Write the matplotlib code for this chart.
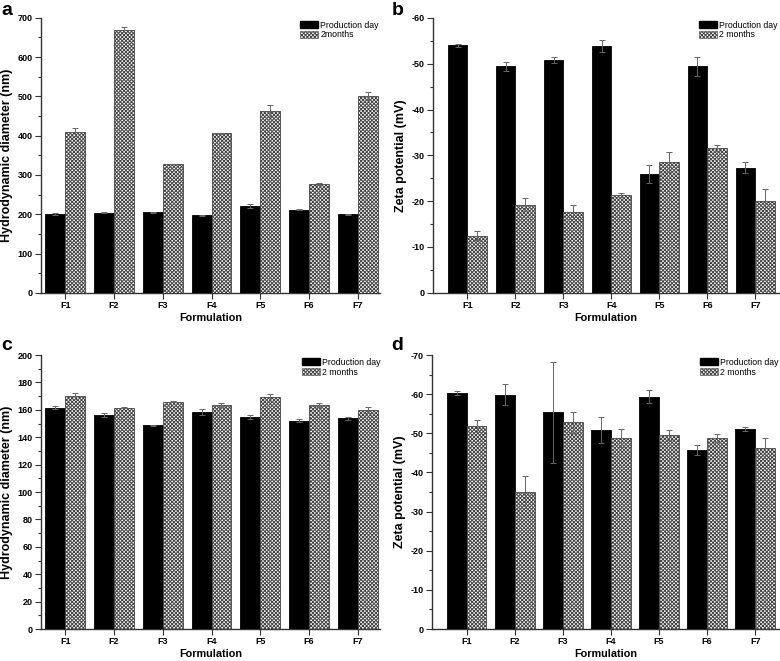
import matplotlib
matplotlib.use("Agg")
import matplotlib.pyplot as plt
import numpy as np
from matplotlib.patches import Patch
from matplotlib.ticker import MultipleLocator

plt.rcParams.update({
    "font.family": ["Liberation Sans", "DejaVu Sans"],
    "font.size": 7,
    "axes.unicode_minus": False,
    "hatch.linewidth": 0.7,
})

formulations = ["F1", "F2", "F3", "F4", "F5", "F6", "F7"]

# a: hydrodynamic diameter, first formulation set
size_a_day = [200, 204, 205, 197, 220, 212, 200]
size_a_day_err = [2, 2, 2, 1, 5, 1, 1]
size_a_2m = [410, 670, 328, 406, 462, 277, 500]
size_a_2m_err = [10, 6, 1, 2, 15, 2, 10]

# b: zeta potential, first set
zeta_b_day = [-54.0, -49.4, -50.8, -53.8, -26.0, -49.4, -27.3]
zeta_b_day_err = [0.3, 1.0, 0.6, 1.3, 2.0, 2.0, 1.2]
zeta_b_2m = [-12.5, -19.2, -17.7, -21.3, -28.6, -31.6, -20.0]
zeta_b_2m_err = [0.9, 1.4, 1.5, 0.4, 2.2, 0.7, 2.6]

# c: hydrodynamic diameter, second set
size_c_day = [161.6, 156.5, 148.7, 158.4, 154.6, 152.1, 153.8]
size_c_day_err = [1.0, 1.5, 0.5, 2.5, 1.5, 1.2, 1.3]
size_c_2m = [170.1, 161.6, 166.0, 163.3, 169.1, 163.8, 159.9]
size_c_2m_err = [2.5, 0.3, 0.2, 1.5, 2.5, 1.5, 2.5]

# d: zeta potential, second set
zeta_d_day = [-60.3, -59.9, -55.4, -50.9, -59.4, -45.7, -51.2]
zeta_d_day_err = [0.4, 2.6, 12.9, 3.3, 1.6, 1.2, 0.5]
zeta_d_2m = [-51.8, -34.9, -52.8, -48.7, -49.6, -48.9, -46.2]
zeta_d_2m_err = [1.5, 4.1, 2.7, 2.3, 1.2, 1.0, 2.6]

BAR_W = 0.41
HATCH = "xxxxxxxxx"
ERR_KW = dict(ecolor="#666666", elinewidth=0.7, capsize=2.2, capthick=0.7)


def draw_panel(ax, day, day_err, m2, m2_err, ylim, major, ylabel, legend_2m,
               xlim, leg_x):
    x = np.arange(1, len(formulations) + 1)
    ax.bar(x - BAR_W / 2, day, BAR_W, color="black", edgecolor="black",
           linewidth=0.6, yerr=day_err, error_kw=ERR_KW, zorder=3)
    ax.bar(x + BAR_W / 2, m2, BAR_W, color="white", edgecolor="#444444",
           hatch=HATCH, linewidth=0.6, yerr=m2_err, error_kw=ERR_KW, zorder=3)

    ax.set_xlim(*xlim)
    ax.set_ylim(*ylim)
    ax.set_xticks(x)
    ax.set_xticklabels(formulations, fontweight="bold")
    ax.yaxis.set_major_locator(MultipleLocator(major))
    ax.yaxis.set_minor_locator(MultipleLocator(major / 2))
    for lab in ax.get_yticklabels():
        lab.set_fontweight("bold")
    ax.tick_params(axis="both", which="both", direction="out", labelsize=6.5,
                   width=0.8, color="#333333", pad=2)
    ax.tick_params(axis="both", which="major", length=4)
    ax.tick_params(axis="y", which="minor", length=2)
    for side in ["top", "right"]:
        ax.spines[side].set_visible(False)
    for side in ["left", "bottom"]:
        ax.spines[side].set_linewidth(1.0)
        ax.spines[side].set_color("#333333")

    ax.set_xlabel("Formulation", fontsize=7.8, fontweight="bold", labelpad=2)
    ax.set_ylabel(ylabel, fontsize=9, fontweight="bold", labelpad=3)

    handles = [
        Patch(facecolor="black", edgecolor="black", label="Production day"),
        Patch(facecolor="white", edgecolor="#444444", hatch=HATCH,
              linewidth=0.4, label=legend_2m),
    ]
    ax.legend(handles=handles, loc="upper left", bbox_to_anchor=(leg_x, 0.99),
              frameon=False, fontsize=6.3, handlelength=2.1, handleheight=0.9,
              handletextpad=0.2, labelspacing=0.1, borderaxespad=0.0,
              borderpad=0.0)


fig = plt.figure(figsize=(7.8, 6.61), dpi=100)
ax_a = fig.add_axes([0.0526, 0.557, 0.434, 0.416])
ax_b = fig.add_axes([0.555, 0.557, 0.444, 0.416])
ax_c = fig.add_axes([0.0526, 0.0484, 0.434, 0.4145])
ax_d = fig.add_axes([0.554, 0.0484, 0.445, 0.4145])

draw_panel(ax_a, size_a_day, size_a_day_err, size_a_2m, size_a_2m_err,
           (0, 700), 100, "Hydrodynamic diameter (nm)", "2months",
           (0.5, 7.45), 0.765)
draw_panel(ax_b, zeta_b_day, zeta_b_day_err, zeta_b_2m, zeta_b_2m_err,
           (0, -60), 10, "Zeta potential (mV)", "2 months",
           (0.28, 7.5), 0.768)
draw_panel(ax_c, size_c_day, size_c_day_err, size_c_2m, size_c_2m_err,
           (0, 200), 20, "Hydrodynamic diameter (nm)", "2 months",
           (0.5, 7.45), 0.77)
draw_panel(ax_d, zeta_d_day, zeta_d_day_err, zeta_d_2m, zeta_d_2m_err,
           (0, -70), 10, "Zeta potential (mV)", "2 months",
           (0.28, 7.5), 0.772)

# panel letters
letter_kw = dict(fontsize=14, fontweight="bold", va="center", ha="left")
fig.text(0.002, 0.984, "a", **letter_kw)
fig.text(0.502, 0.984, "b", **letter_kw)
fig.text(0.002, 0.478, "c", **letter_kw)
fig.text(0.502, 0.478, "d", **letter_kw)

fig.savefig("out.png", dpi=100)
plt.close(fig)
